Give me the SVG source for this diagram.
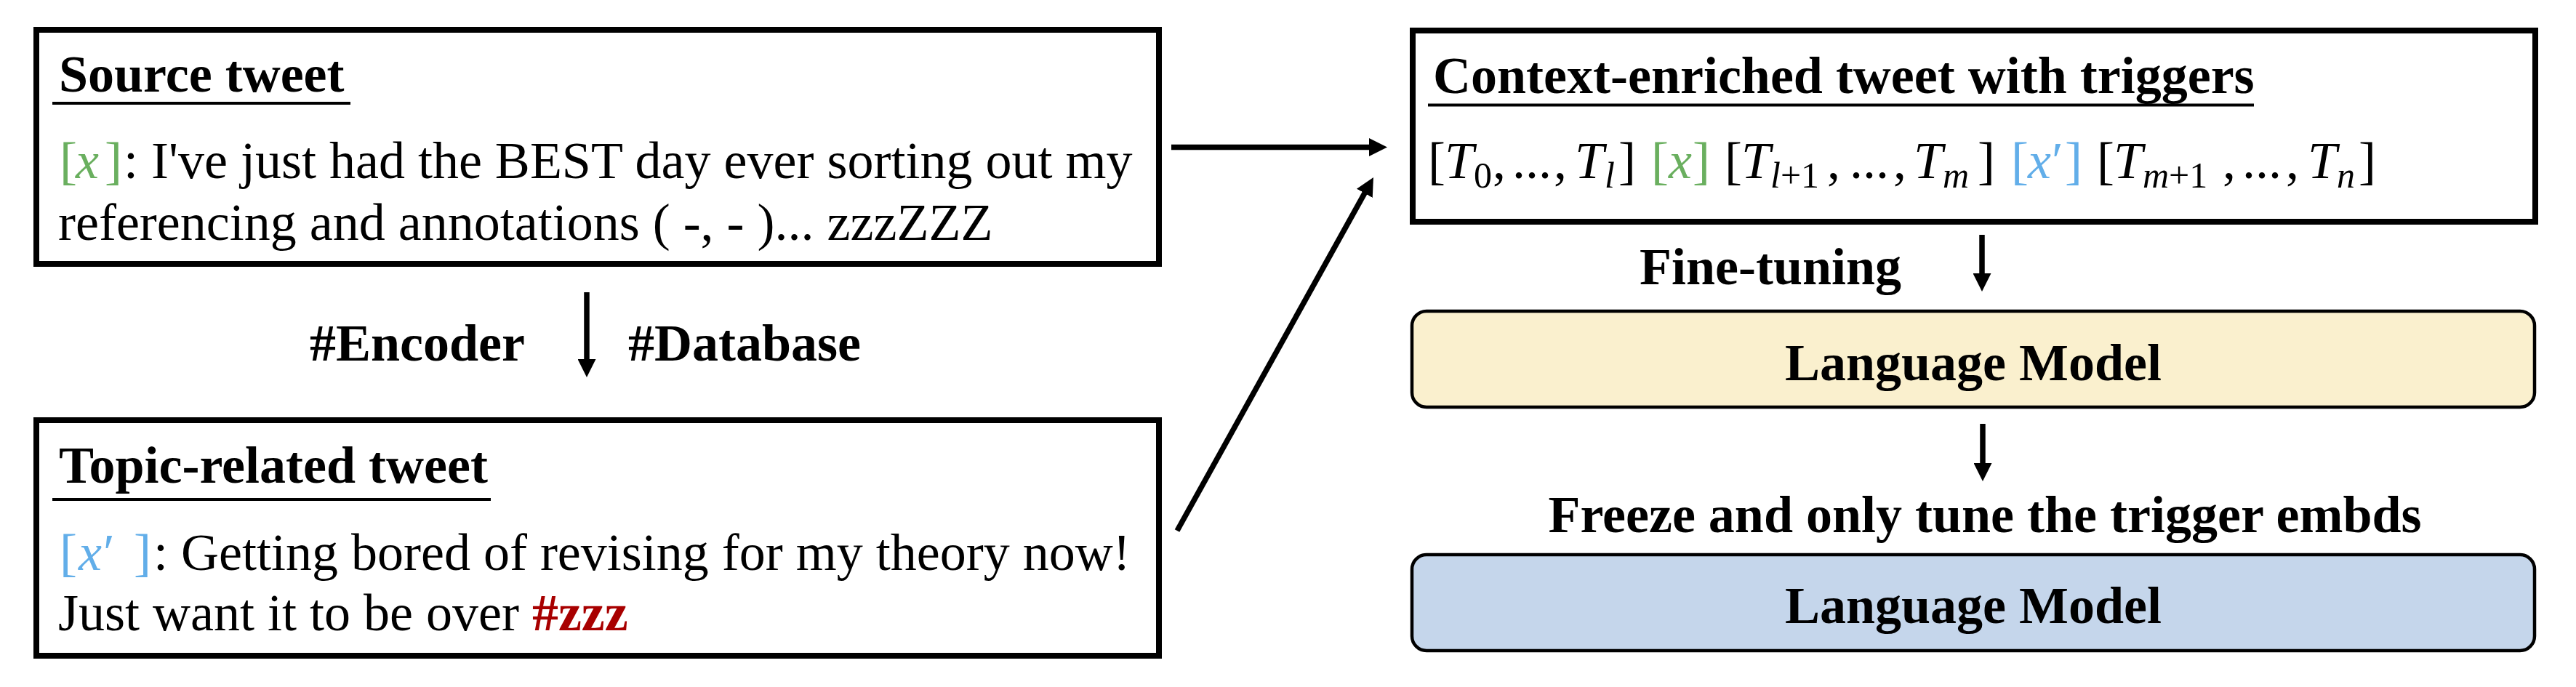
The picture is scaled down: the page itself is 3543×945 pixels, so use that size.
<svg xmlns="http://www.w3.org/2000/svg" width="3543" height="945" viewBox="0 0 3543 945">
<defs>
<style>
.box{fill:#fff;stroke:#000;stroke-width:8}
.lm{stroke:#000;stroke-width:4.5}
.t{font-family:"Liberation Serif","Times New Roman","DejaVu Serif",serif;font-size:72px;fill:#000}
.b{font-weight:bold}
.i{font-style:italic}
.s{font-size:50px}
.ul{stroke:#000;stroke-width:4}
.g{fill:#6AAF5F}
.bl{fill:#62AEE9}
.red{fill:#A80000;font-weight:bold}
.conn line{stroke:#000;stroke-width:7.5;marker-end:url(#ah)}
</style>
<marker id="ah" markerUnits="userSpaceOnUse" markerWidth="25" markerHeight="25" refX="2" refY="12.5" orient="auto">
<path d="M0,0 L25,12.5 L0,25 z" fill="#000"/>
</marker>
</defs>
<rect width="3543" height="945" fill="#fff"/>

<g id="source-tweet">
<rect class="box" x="50" y="41" width="1544" height="322"/>
<text class="t b" x="81" y="126">Source tweet</text>
<line class="ul" x1="72" y1="142" x2="482" y2="142"/>
<text class="t" y="245"><tspan x="82" class="g">[</tspan><tspan x="104" class="g i">x</tspan><tspan x="144" class="g">]</tspan><tspan x="170">: I've just had the BEST day ever sorting out my</tspan></text>
<text class="t" x="80" y="330">referencing and annotations ( -, - )... zzzZZZ</text>
</g>

<g id="retrieval-label">
<text class="t b" x="426" y="496">#Encoder</text>
<text class="t b" x="864" y="496">#Database</text>
</g>

<g id="topic-tweet">
<rect class="box" x="50" y="578" width="1544" height="324"/>
<text class="t b" x="81" y="664">Topic-related tweet</text>
<line class="ul" x1="72" y1="687" x2="675" y2="687"/>
<text class="t" y="784"><tspan x="82" class="bl">[</tspan><tspan x="108" class="bl i">x</tspan><tspan x="142" class="bl">′</tspan><tspan x="184" class="bl">]</tspan><tspan x="211">: Getting bored of revising for my theory now!</tspan></text>
<text class="t" x="80" y="867">Just want it to be over <tspan class="red">#zzz</tspan></text>
</g>

<g id="context-tweet">
<rect class="box" x="1943" y="42" width="1544" height="263"/>
<text class="t b" x="1971" y="128">Context-enriched tweet with triggers</text>
<line class="ul" x1="1964" y1="144.5" x2="3100" y2="144.5"/>
<text class="t">
<tspan x="1964" y="245">[</tspan><tspan x="1987" y="245" class="i">T</tspan><tspan x="2027" y="258" class="s">0</tspan><tspan x="2053" y="245">,</tspan><tspan x="2080" y="245">...</tspan><tspan x="2137" y="245">,</tspan><tspan x="2166" y="245" class="i">T</tspan><tspan x="2207" y="258" class="s i">l</tspan><tspan x="2226" y="245">]</tspan>
<tspan x="2271" y="245" class="g">[</tspan><tspan x="2295" y="245" class="g i">x</tspan><tspan x="2328" y="245" class="g">]</tspan>
<tspan x="2372" y="245">[</tspan><tspan x="2395" y="245" class="i">T</tspan><tspan x="2435" y="258" class="s"><tspan class="i">l</tspan>+1</tspan><tspan x="2513" y="245">,</tspan><tspan x="2544" y="245">...</tspan><tspan x="2604" y="245">,</tspan><tspan x="2632" y="245" class="i">T</tspan><tspan x="2672" y="258" class="s i">m</tspan><tspan x="2720" y="245">]</tspan>
<tspan x="2766" y="245" class="bl">[</tspan><tspan x="2789" y="245" class="bl i">x</tspan><tspan x="2822" y="245" class="bl">′</tspan><tspan x="2840" y="245" class="bl">]</tspan>
<tspan x="2884" y="245">[</tspan><tspan x="2907" y="245" class="i">T</tspan><tspan x="2947" y="258" class="s"><tspan class="i">m</tspan>+1</tspan><tspan x="3057" y="245">,</tspan><tspan x="3084" y="245">...</tspan><tspan x="3144" y="245">,</tspan><tspan x="3174" y="245" class="i">T</tspan><tspan x="3214" y="258" class="s i">n</tspan><tspan x="3244" y="245">]</tspan>
</text>
</g>

<g id="fine-tuning-label">
<text class="t b" x="2255" y="391">Fine-tuning</text>
</g>

<g id="lm-finetune">
<rect class="lm" x="1942" y="428" width="1544" height="132" rx="20" ry="20" fill="#FAF0CE"/>
<text class="t b" x="2714" y="523" text-anchor="middle" font-size="75">Language Model</text>
</g>

<g id="freeze-label">
<text class="t b" x="2730" y="732" text-anchor="middle">Freeze and only tune the trigger embds</text>
</g>

<g id="lm-frozen">
<rect class="lm" x="1942" y="763" width="1544" height="132" rx="20" ry="20" fill="#C5D6EB"/>
<text class="t b" x="2714" y="857" text-anchor="middle" font-size="75">Language Model</text>
</g>

<g id="connectors" class="conn">
<line x1="1611" y1="202.5" x2="1885" y2="202.5"/>
<line x1="1619" y1="730" x2="1877.8" y2="264.1"/>
<line x1="807" y1="402" x2="807" y2="496"/>
<line x1="2726" y1="323" x2="2726" y2="378"/>
<line x1="2727" y1="583" x2="2727" y2="639"/>
</g>
</svg>
